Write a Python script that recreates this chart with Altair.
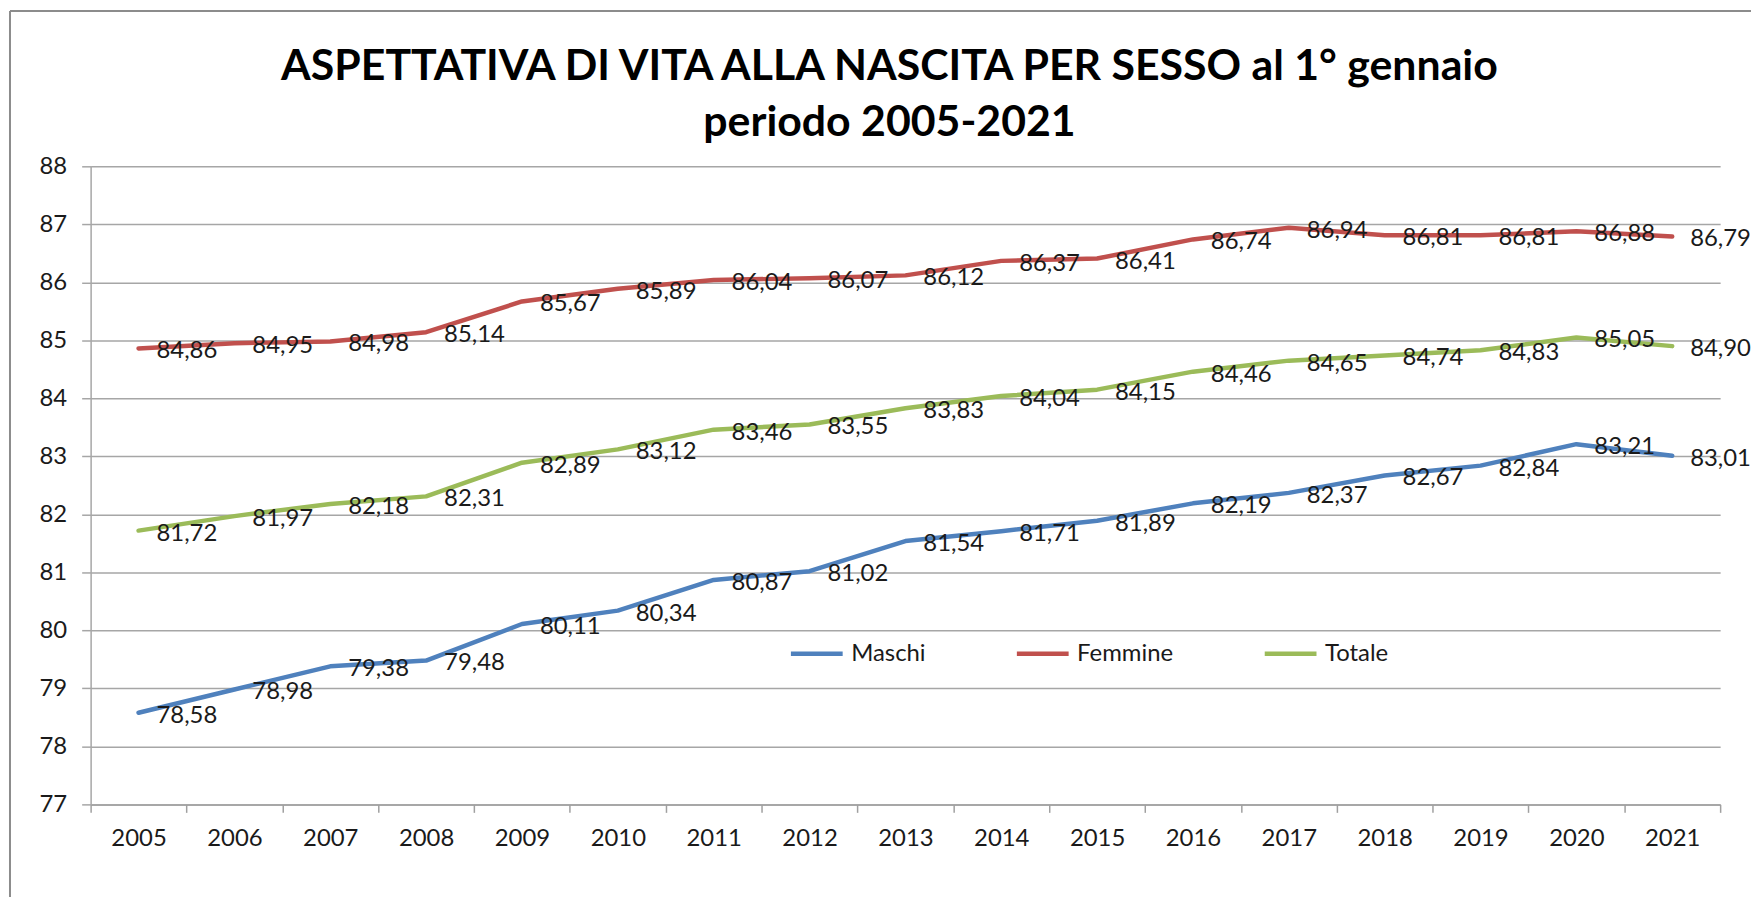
import altair as alt
import pandas as pd

years = [str(y) for y in range(2005, 2022)]
maschi = [78.58, 78.98, 79.38, 79.48, 80.11, 80.34, 80.87, 81.02, 81.54, 81.71,
          81.89, 82.19, 82.37, 82.67, 82.84, 83.21, 83.01]
femmine = [84.86, 84.95, 84.98, 85.14, 85.67, 85.89, 86.04, 86.07, 86.12, 86.37,
           86.41, 86.74, 86.94, 86.81, 86.81, 86.88, 86.79]
totale = [81.72, 81.97, 82.18, 82.31, 82.89, 83.12, 83.46, 83.55, 83.83, 84.04,
          84.15, 84.46, 84.65, 84.74, 84.83, 85.05, 84.90]
series_names = ["Maschi", "Femmine", "Totale"]
series_colors = ["#4F81BD", "#C0504D", "#9BBB59"]
y_ticks = list(range(77, 89))

rows = []
for name, vals in zip(series_names, [maschi, femmine, totale]):
    for yr, v in zip(years, vals):
        rows.append({"anno": yr, "valore": v, "serie": name,
                     "etichetta": f"{v:.2f}".replace(".", ",")})
df = pd.DataFrame(rows)

FONT = "Lato"
FS = 24
W, H = 1637, 641

x_enc = alt.X("anno:O", bandPosition=0.5,
              scale=alt.Scale(type="band", paddingInner=0, paddingOuter=0),
              axis=alt.Axis(title=None, labelAngle=0, tickBand="extent", grid=False,
                            labelFont=FONT, labelFontSize=FS, labelColor="#1a1a1a",
                            tickSize=8, tickColor="#a0a0a0", tickWidth=1.5,
                            domainColor="#a0a0a0", domainWidth=1.5, labelPadding=14))
y_enc = alt.Y("valore:Q", scale=alt.Scale(domain=[77, 88], nice=False, zero=False),
              axis=alt.Axis(title=None, values=y_ticks, format="d", grid=True,
                            gridColor="#a6a6a6", gridWidth=1.5, labelFont=FONT,
                            labelFontSize=FS, labelColor="#1a1a1a", tickSize=9,
                            tickColor="#a6a6a6", tickWidth=1.5, domainColor="#a6a6a6",
                            domainWidth=1.5, labelPadding=15))
color_enc = alt.Color("serie:N",
                      scale=alt.Scale(domain=series_names, range=series_colors),
                      legend=alt.Legend(title=None, orient="none", legendX=701, legendY=461,
                                        direction="horizontal", columns=3,
                                        symbolType="stroke", symbolSize=2704,
                                        symbolStrokeWidth=4.5, labelFont=FONT,
                                        labelFontSize=FS, labelColor="#1a1a1a",
                                        labelOffset=6, columnPadding=82, padding=0))

base = alt.Chart(df)
lines = base.mark_line(strokeWidth=4.5, strokeCap="round", strokeJoin="round").encode(
    x=x_enc, y=y_enc, color=color_enc, order=alt.Order("anno:O"))
labels = base.mark_text(align="left", baseline="middle", dx=18, dy=3, font=FONT,
                        fontSize=FS, color="#1a1a1a").encode(
    x=alt.X("anno:O", bandPosition=0.5), y="valore:Q", text="etichetta:N",
    detail="serie:N")

# chart frame (left and top edges of the Excel chart box)
frame_df = pd.DataFrame({"k": [0]})
left_border = alt.Chart(frame_df).mark_rule(color="#8c8c8c", strokeWidth=2).encode(
    x=alt.value(-81), y=alt.value(-156), y2=alt.value(H + 93))
top_border = alt.Chart(frame_df).mark_rule(color="#8c8c8c", strokeWidth=2).encode(
    x=alt.value(-81), x2=alt.value(W + 31), y=alt.value(-156))

chart = alt.layer(left_border, top_border, lines, labels).properties(
    width=W, height=H,
    title=alt.TitleParams(
        text=["ASPETTATIVA DI VITA ALLA NASCITA PER SESSO al 1° gennaio",
              "periodo 2005-2021"],
        font=FONT, fontSize=43, fontWeight="bold", color="#000000",
        anchor="middle", dx=-16, offset=-170, lineHeight=56.7, baseline="alphabetic"),
    autosize="none",
    padding={"left": 83, "top": 157, "right": 31, "bottom": 93},
    background="white",
).configure_view(stroke=None)

chart.save("out.html", embed_options={"renderer": "svg", "actions": False})
